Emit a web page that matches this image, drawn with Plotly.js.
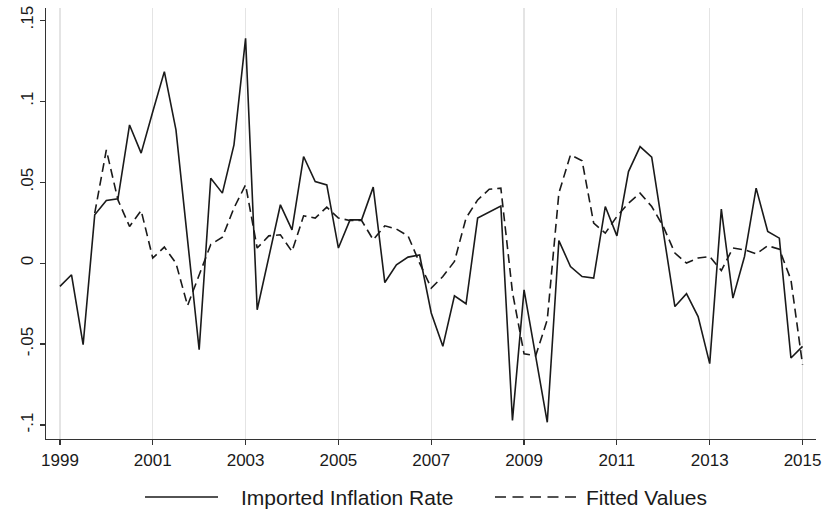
<!DOCTYPE html>
<html>
<head>
<meta charset="utf-8">
<script src="https://cdn.plot.ly/plotly-3.0.1.min.js"></script>
<style>
  html, body { margin: 0; padding: 0; background: #fff; }
  #chart { width: 824px; height: 521px; }
</style>
</head>
<body>
<div id="chart"></div>
<script>
// Quarterly time index, 1999q1 .. 2015q1 (as fractional years)
const period = [
  1999.00, 1999.25, 1999.50, 1999.75,
  2000.00, 2000.25, 2000.50, 2000.75,
  2001.00, 2001.25, 2001.50, 2001.75,
  2002.00, 2002.25, 2002.50, 2002.75,
  2003.00, 2003.25, 2003.50, 2003.75,
  2004.00, 2004.25, 2004.50, 2004.75,
  2005.00, 2005.25, 2005.50, 2005.75,
  2006.00, 2006.25, 2006.50, 2006.75,
  2007.00, 2007.25, 2007.50, 2007.75,
  2008.00, 2008.25, 2008.50, 2008.75,
  2009.00, 2009.25, 2009.50, 2009.75,
  2010.00, 2010.25, 2010.50, 2010.75,
  2011.00, 2011.25, 2011.50, 2011.75,
  2012.00, 2012.25, 2012.50, 2012.75,
  2013.00, 2013.25, 2013.50, 2013.75,
  2014.00, 2014.25, 2014.50, 2014.75,
  2015.00
];

// Imported inflation rate (actual)
const importedInflation = [
  -0.0144, -0.0072, -0.0504,  0.0298,
   0.0386,  0.0397,  0.0853,  0.0679,
   0.0935,  0.1182,  0.0822,  0.0143,
  -0.0535,  0.0524,  0.0432,  0.0730,
   0.1388, -0.0288,  0.0030,  0.0360,
   0.0205,  0.0658,  0.0503,  0.0483,
   0.0093,  0.0267,  0.0267,  0.0469,
  -0.0120, -0.0010,  0.0037,  0.0050,
  -0.0308, -0.0514, -0.0202, -0.0251,
   0.0278,  0.0318,  0.0353, -0.0971,
  -0.0165, -0.0574, -0.0983,  0.0139,
  -0.0021, -0.0083, -0.0093,  0.0349,
   0.0168,  0.0565,  0.0719,  0.0654,
   0.0193, -0.0268, -0.0189, -0.0330,
  -0.0621,  0.0333, -0.0216,  0.0041,
   0.0463,  0.0195,  0.0154, -0.0586,
  -0.0514
];

// Fitted values from the model (available from 1999q4)
const fittedValues = [
     null,    null,    null,  0.0308,
   0.0699,  0.0390,  0.0226,  0.0325,
   0.0031,  0.0099,  0.0000, -0.0262,
  -0.0075,  0.0115,  0.0160,  0.0340,
   0.0483,  0.0093,  0.0168,  0.0175,
   0.0072,  0.0292,  0.0278,  0.0345,
   0.0278,  0.0263,  0.0263,  0.0144,
   0.0230,  0.0210,  0.0168,  0.0000,
  -0.0154, -0.0083,  0.0010,  0.0278,
   0.0390,  0.0456,  0.0463, -0.0180,
  -0.0560, -0.0572, -0.0350,  0.0432,
   0.0668,  0.0632,  0.0247,  0.0185,
   0.0288,  0.0370,  0.0432,  0.0349,
   0.0226,  0.0062,  0.0000,  0.0031,
   0.0041, -0.0046,  0.0093,  0.0082,
   0.0057,  0.0107,  0.0086, -0.0103,
  -0.0627
];

const seriesNames = ['Imported Inflation Rate', 'Fitted Values'];

const yTickVals = [-0.1, -0.05, 0, 0.05, 0.1, 0.15];
const yTickText = ['-.1', '-.05', '0', '.05', '.1', '.15'];
const xTickVals = [1999, 2001, 2003, 2005, 2007, 2009, 2011, 2013, 2015];

const FONT = '"Liberation Sans", Arial, sans-serif';
const INK = '#1a1a1a';
const SOLID = { color: INK, width: 1.6 };
const DASHED = { color: INK, width: 1.6, dash: '9px,5px' };

const traces = [
  { x: period, y: importedInflation, type: 'scatter', mode: 'lines',
    name: seriesNames[0], line: SOLID },
  { x: period, y: fittedValues, type: 'scatter', mode: 'lines',
    name: seriesNames[1], connectgaps: false, line: DASHED }
];

// Key below the plot: long line samples followed by the series names
const keyY = -0.1346;
const keyItems = [
  { x0: 0.1286, x1: 0.2234, tx: 0.2506, line: SOLID, label: seriesNames[0] },
  { x0: 0.5831, x1: 0.6883, tx: 0.6987,
    line: { color: INK, width: 1.6, dash: '11px,6.5px' }, label: seriesNames[1] }
];

const layout = {
  width: 824, height: 521,
  paper_bgcolor: '#ffffff', plot_bgcolor: '#ffffff',
  margin: { l: 46, r: 8, t: 8, b: 82 },
  font: { family: FONT, size: 18, color: INK },
  showlegend: false,
  xaxis: {
    range: [1998.70, 2015.29],
    tickmode: 'array', tickvals: xTickVals,
    ticktext: xTickVals.map(String),
    showgrid: true, gridcolor: '#e4e4e4', gridwidth: 1.2,
    zeroline: false,
    showline: true, linecolor: '#333', linewidth: 1.4,
    ticks: 'outside', ticklen: 5, tickcolor: '#333', tickwidth: 1.2,
    tickfont: { family: FONT, size: 17, color: INK }
  },
  yaxis: {
    range: [-0.1086, 0.1575],
    tickmode: 'array', tickvals: yTickVals, ticktext: yTickText,
    tickangle: -90,
    showgrid: false, zeroline: false,
    showline: true, linecolor: '#333', linewidth: 1.4,
    ticks: 'outside', ticklen: 5, tickcolor: '#333', tickwidth: 1.2,
    tickfont: { family: FONT, size: 17, color: INK }
  },
  shapes: keyItems.map(k => ({
    type: 'line', xref: 'paper', yref: 'paper',
    x0: k.x0, x1: k.x1, y0: keyY, y1: keyY, line: k.line
  })),
  annotations: keyItems.map(k => ({
    xref: 'paper', yref: 'paper', x: k.tx, y: keyY,
    xanchor: 'left', yanchor: 'middle', showarrow: false,
    text: k.label, font: { family: FONT, size: 21, color: INK }
  }))
};

Plotly.newPlot('chart', traces, layout, { displayModeBar: false, staticPlot: true });
</script>
</body>
</html>
